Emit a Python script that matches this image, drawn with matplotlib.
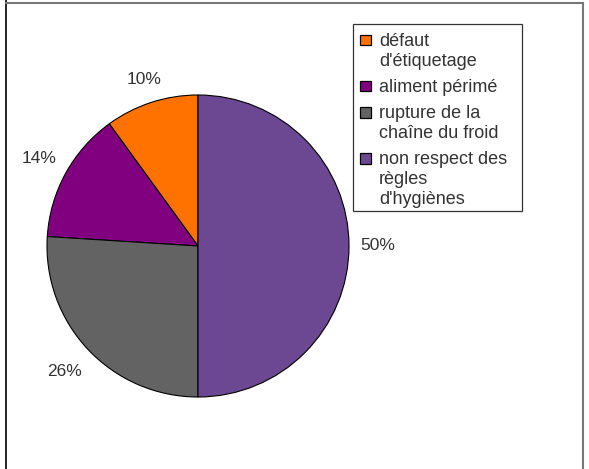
import matplotlib
matplotlib.use("Agg")
import matplotlib.pyplot as plt
import numpy as np
from matplotlib.lines import Line2D
from matplotlib.patches import Rectangle

plt.rcParams['font.family'] = ['Liberation Sans', 'DejaVu Sans']

categories = ["défaut\nd'étiquetage", "aliment périmé", "rupture de la\nchaîne du froid",
              "non respect des\nrègles\nd'hygiènes"]
values = [10, 14, 26, 50]
colors = ["#FF7200", "#800080", "#636363", "#6B4891"]

W, H = 589, 469
fig = plt.figure(figsize=(W / 100, H / 100), dpi=100)

# pie centre (198, 246), radius ~151 px
cx, cy, r = 198, 246, 151
ax = fig.add_axes([(cx - r) / W, 1 - (cy + r) / H, 2 * r / W, 2 * r / H])
wedges, texts, autotexts = ax.pie(values, colors=colors, startangle=90, counterclock=True,
                                  autopct='%d%%', pctdistance=1.19, labeldistance=None,
                                  wedgeprops=dict(edgecolor='black', linewidth=0.8))
label_dist = [1.16, 1.2, 1.21, 1.19]
for w, t, d in zip(wedges, autotexts, label_dist):
    ang = np.deg2rad((w.theta1 + w.theta2) / 2)
    t.set_position((d * np.cos(ang), d * np.sin(ang)))
    t.set_color('#333333')
    t.set_fontsize(12.5)
ax.set_aspect('equal')
ax.set_xlim(-1, 1)
ax.set_ylim(-1, 1)
ax.axis('off')

# manual legend (handles aligned with the first line of each entry), pixel layout
def fx(px):
    return px / W

def fy(py):
    return 1 - py / H

fig.add_artist(Rectangle((fx(352.5), fy(211)), (522 - 352.5) / W, (211 - 24) / H,
                         transform=fig.transFigure, facecolor='white', edgecolor='#333333',
                         linewidth=0.9))
baseline = 45.5
for cat, col in zip(categories, colors):
    lines = cat.split('\n')
    fig.add_artist(Rectangle((fx(360.5), fy(baseline)), 11 / W, 10.5 / H,
                             transform=fig.transFigure, facecolor=col, edgecolor='black',
                             linewidth=0.9))
    for i, ln in enumerate(lines):
        fig.text(fx(379), fy(baseline + 20 * i), ln, fontsize=13, color='#333333',
                 ha='left', va='baseline')
    baseline += 20 * (len(lines) - 1) + 26

# frame lines
fig.add_artist(Line2D([6 / W, 6 / W], [0, 1], color='black', linewidth=1.2, transform=fig.transFigure))
fig.add_artist(Line2D([6 / W, 583 / W], [1 - 3.5 / H, 1 - 3.5 / H], color='#777777', linewidth=1.5, transform=fig.transFigure))
fig.add_artist(Line2D([583 / W, 583 / W], [0, 1 - 3.5 / H], color='#777777', linewidth=1.5, transform=fig.transFigure))

fig.savefig('out.png', dpi=100)
